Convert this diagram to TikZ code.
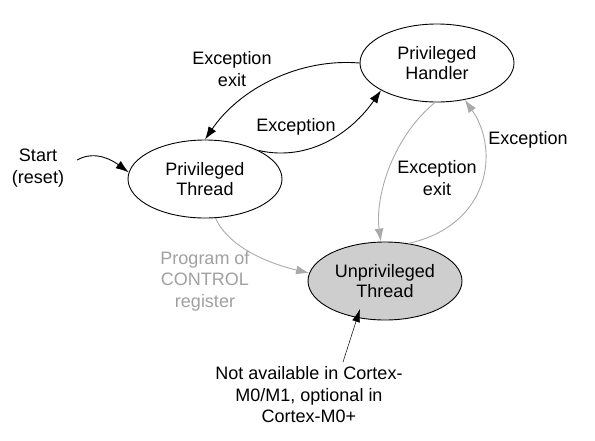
\documentclass[tikz,border=0pt]{standalone}
\usepackage{fontspec}
\setmainfont{Liberation Sans}
\usetikzlibrary{shapes.geometric,arrows.meta}
\definecolor{lgray}{RGB}{170,170,170}
\definecolor{tgray}{RGB}{160,160,160}
\definecolor{sfill}{RGB}{206,206,206}
\tikzset{
  state/.style={ellipse,draw=black,line width=0.9pt,minimum width=154pt,minimum height=78pt,inner sep=0pt,align=center,font=\fontsize{18}{20.5}\selectfont},
  lbl/.style={align=center,inner sep=0pt,font=\fontsize{18}{21.5}\selectfont},
  blk/.style={line width=0.9pt,-{Latex[length=13pt,width=9pt]}},
  gry/.style={line width=0.9pt,draw=lgray,-{Latex[length=13pt,width=9pt,color=lgray]}},
}
\begin{document}
\begin{tikzpicture}[x=1pt,y=-1pt]
\useasboundingbox (0,0) rectangle (595,440);
\node[state] (pt) at (205,179) {Privileged\\Thread};
\node[state] (ph) at (437,63) {Privileged\\Handler};
\node[state,fill=sfill] (ut) at (385,281) {Unprivileged\\Thread};

\node[lbl] (l1) at (232,69) {Exception\\exit};
\node[lbl] (l2) at (296,127) {Exception};
\node[lbl] (l3) at (38,168) {Start\\(reset)};
\node[lbl] (l4) at (437,178) {Exception\\exit};
\node[lbl] (l5) at (528,140) {Exception};
\node[lbl,text=tgray] (l6) at (205,281) {Program of\\CONTROL\\register};
\node[lbl] (l7) at (309,395) {Not available in Cortex-\\M0/M1, optional in\\Cortex-M0+};

\coordinate (s0) at (77,160);
\coordinate (n0) at (343,362);
\coordinate (n1) at (360,309);

\draw[blk] (ph.west) .. controls (300,58) and (240,88) .. (pt.north);
\draw[blk] (pt.28) .. controls (310,162) and (352,132) .. (ph.206);
\draw[blk] (s0) .. controls (95,150) and (112,160) .. (pt.175);
\draw[gry] (ph.267) .. controls (390,140) and (375,200) .. (ut.96);
\draw[gry] (ut.58) .. controls (490,225) and (500,150) .. (ph.307);
\draw[gry] (pt.285) .. controls (230,250) and (275,265) .. (ut.174);
\draw[line width=0.5pt,-{Latex[length=13pt,width=8pt]}] (n0) -- (n1);
\end{tikzpicture}
\end{document}
